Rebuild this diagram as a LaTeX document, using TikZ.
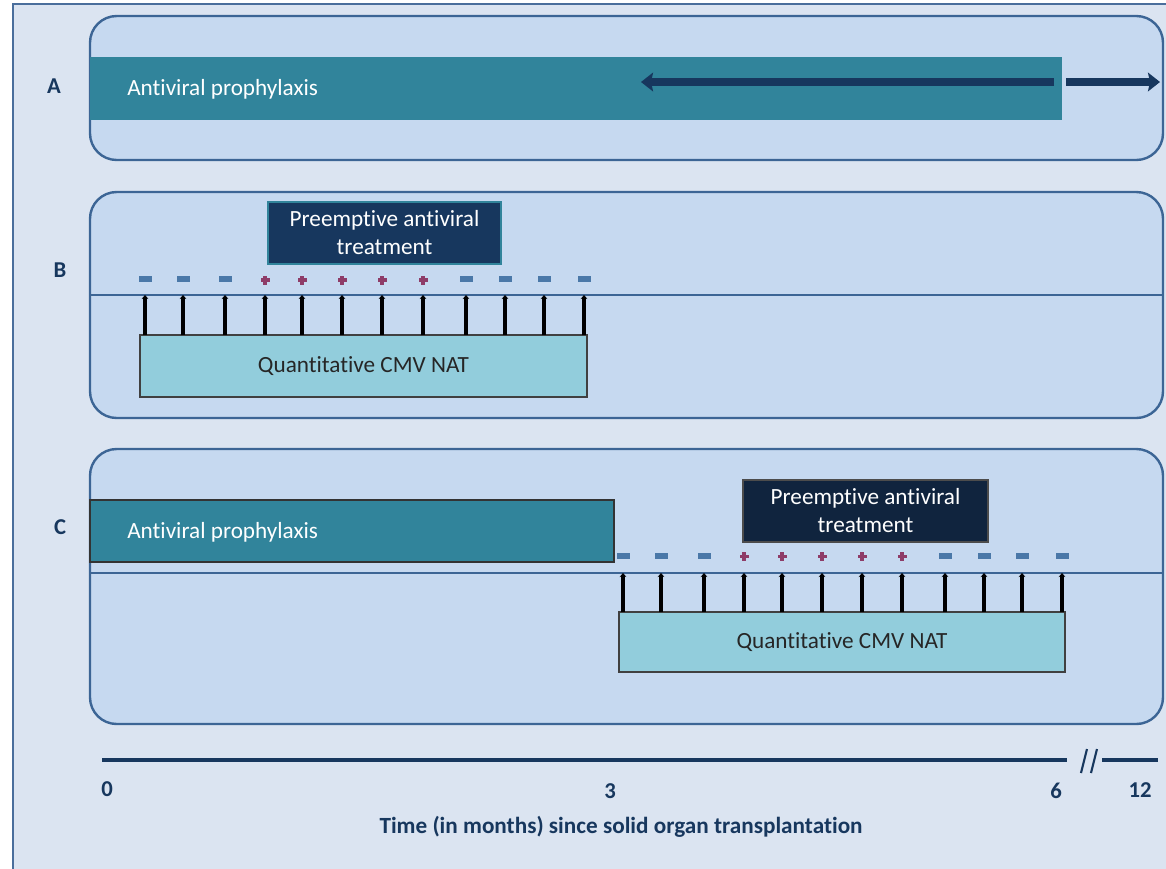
\documentclass[tikz,border=0pt]{standalone}
\usepackage{fontspec}
\setmainfont{Carlito}[Ligatures=NoCommon]
\usetikzlibrary{arrows.meta,fit}
\definecolor{bgc}{HTML}{DBE4F1}
\definecolor{framec}{HTML}{4A6E9C}
\definecolor{panelf}{HTML}{C6D9F0}
\definecolor{panelb}{HTML}{3C6595}
\definecolor{teal}{HTML}{31849B}
\definecolor{navy}{HTML}{17375E}
\definecolor{navyd}{HTML}{10243E}
\definecolor{natf}{HTML}{92CDDC}
\definecolor{minusc}{HTML}{4A78A8}
\definecolor{plusc}{HTML}{8E3C68}
\begin{document}
\begin{tikzpicture}[x=0.75pt,y=-0.75pt,
  panel/.style={draw=panelb, fill=panelf, line width=1.8pt, rounded corners=20pt, inner sep=0pt, outer sep=0pt},
  box/.style={inner sep=0pt, outer sep=0pt},
  lbl/.style={font=\fontsize{17}{20}\selectfont\bfseries, text=navy},
  wtxt/.style={text=white, font=\fontsize{17.4}{21}\selectfont},
  btxt/.style={text=black!85, font=\fontsize{17.4}{21}\selectfont},
  bigarrow/.style={draw=navy, line width=6pt, -{Stealth[length=9pt,width=14pt,inset=1.5pt]}},
  tick/.style={draw=black, line width=2.8pt, -{Stealth[length=3pt,width=5pt]}},
  tline/.style={draw=panelb, line width=1.3pt},
  axis/.style={draw=navy, line width=3pt},
  minus/.style={fill=minusc},
  plus/.style={fill=plusc}]
\useasboundingbox (0,0) rectangle (1166,868);
\clip (0,0) rectangle (1166,868);
\fill[white] (0,0) rectangle (1166,868);
\draw[fill=bgc, draw=framec, line width=2pt] (13,4) rectangle (1200,900);

% ---------------- Panel A
\node[panel, fit={(90,16) (1163,160)}] (pA) {};
\node[box, fill=teal, fit={(90,57) (1062,120)}] (tealA) {};
\node[wtxt, anchor=west, inner sep=0pt] (tA) at (127,89) {Antiviral prophylaxis};
\node[lbl] (lA) at (54,86) {A};
\coordinate (aS1) at (1054,82);
\coordinate (aE1) at (641,82);
\coordinate (aS2) at (1066,82);
\coordinate (aE2) at (1160,82);
\draw[bigarrow] (aS1) -- (aE1);
\draw[bigarrow] (aS2) -- (aE2);

% ---------------- Panel B
\node[panel, fit={(90,192) (1163,418)}] (pB) {};
\coordinate (bL) at (91,295);
\coordinate (bR) at (1163,295);
\draw[tline] (bL) -- (bR);
\node[lbl] (lB) at (60,270) {B};
\node[box, fill=navy, draw=teal, line width=0.8pt, fit={(268,202) (501,264)}] (pB1) {};
\node[wtxt, align=center] (tB1) at (pB1.center) {Preemptive antiviral\\treatment};
\node[box, fill=natf, draw=black!75, line width=1pt, fit={(140,335) (587,397)}] (natB) {};
\node[btxt] (tnB) at (natB.center) {Quantitative CMV NAT};
\foreach \x [count=\i] in {145,183,225,265,302,342,382,423,466,505,544,584}{
  \draw[tick] (\x,0 |- natB.north) -- (\x,0 |- bL);
  \ifnum\i<4
    \fill[minus] (\x-6.5,275.5) rectangle (\x+6.5,281.5);
  \else\ifnum\i>8
    \fill[minus] (\x-6.5,275.5) rectangle (\x+6.5,281.5);
  \else
    \fill[plus] (\x-4.5,278.3) rectangle (\x+4.5,281.7);
    \fill[plus] (\x-1.7,275.5) rectangle (\x+1.7,284.5);
  \fi\fi
}

% ---------------- Panel C
\node[panel, fit={(90,449) (1163,724)}] (pC) {};
\coordinate (cL) at (91,573);
\coordinate (cR) at (1163,573);
\draw[tline] (cL) -- (cR);
\node[lbl] (lC) at (60,527) {C};
\node[box, fill=teal, draw=black!80, line width=1pt, fit={(90,500) (614,562)}] (tealC) {};
\node[wtxt, anchor=west, inner sep=0pt] (tC) at (127,532) {Antiviral prophylaxis};
\node[box, fill=navyd, draw=black!70, line width=0.8pt, fit={(743,480) (988,542)}] (pC1) {};
\node[wtxt, align=center] (tC1) at (pC1.center) {Preemptive antiviral\\treatment};
\node[box, fill=natf, draw=black!75, line width=1pt, fit={(619,612) (1065,672)}] (natC) {};
\node[btxt] (tnC) at (natC.center) {Quantitative CMV NAT};
\foreach \x [count=\i] in {623,661,704,744,782,822,862,902,945,984,1022,1062}{
  \draw[tick] (\x,0 |- natC.north) -- (\x,0 |- cL);
  \ifnum\i<4
    \fill[minus] (\x-6.5,553) rectangle (\x+6.5,559);
  \else\ifnum\i>8
    \fill[minus] (\x-6.5,553) rectangle (\x+6.5,559);
  \else
    \fill[plus] (\x-4.5,554.8) rectangle (\x+4.5,558.2);
    \fill[plus] (\x-1.7,552) rectangle (\x+1.7,561);
  \fi\fi
}

% ---------------- Time axis
\coordinate (t0) at (102,760);
\coordinate (t6) at (1067,760);
\coordinate (t12a) at (1102,760);
\coordinate (t12b) at (1158,760);
\draw[axis] (t0) -- (t6);
\draw[axis] (t12a) -- (t12b);
\draw[draw=navy, line width=1.6pt] (1081,773) -- (1087,749) (1091,773) -- (1097,749);
\node[lbl] (n0) at (107,789) {0};
\node[lbl] (n3) at (610,791) {3};
\node[lbl] (n6) at (1056,791) {6};
\node[lbl] (n12) at (1140,790) {12};
\node[text=navy, font=\fontsize{17.4}{20}\selectfont\bfseries] (cap) at (621,827) {Time (in months) since solid organ transplantation};
\end{tikzpicture}
\end{document}
